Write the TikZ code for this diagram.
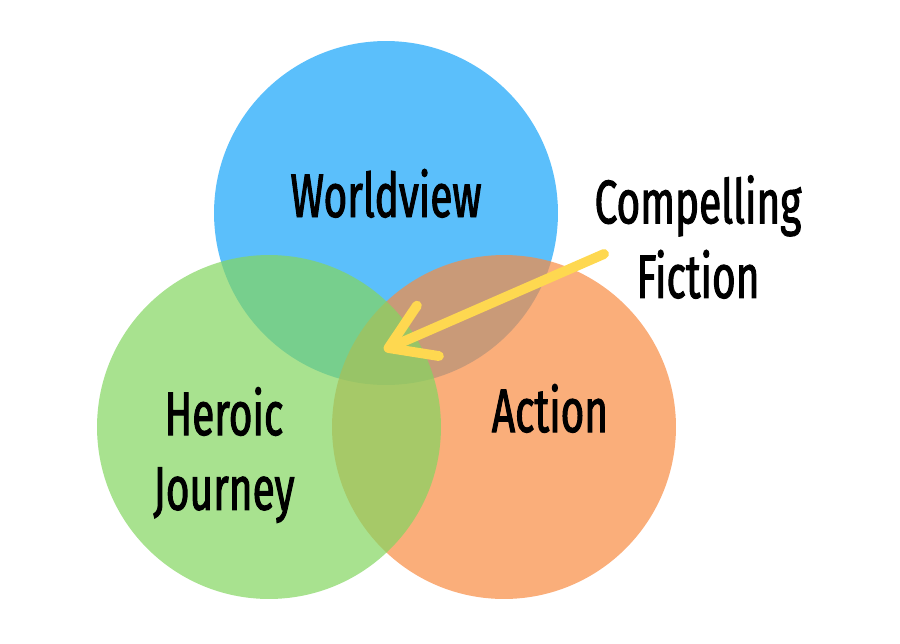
\documentclass[tikz,border=0pt]{standalone}
\usepackage{fontspec}
\setmainfont{Fira Sans}[FakeStretch=0.66, FakeBold=1.6]
\usepackage{xcolor}
\usetikzlibrary{arrows.meta}
\definecolor{cBlue}{RGB}{21,164,249}
\definecolor{cGreen}{RGB}{131,214,96}
\definecolor{cOrange}{RGB}{248,139,66}
\definecolor{cYellow}{RGB}{254,216,80}
\tikzset{
    setcircle/.style={circle, minimum size=6.88cm, inner sep=0pt, fill opacity=0.7},
    setlabel/.style ={font=\fontsize{35}{42.5}\selectfont, align=center, inner sep=0pt, text=black},
    pointer/.style  ={-{Straight Barb[length=8.6mm, width=11mm, round]}, line width=5.6pt, line cap=round, cYellow},
}

\begin{document}
\begin{tikzpicture}[x=0.02cm, y=-0.02cm]
                \useasboundingbox (0,0) rectangle (900,643);
                \node[setcircle, fill=cBlue] (world) at (386,213){};
                \node[setcircle, fill=cOrange] (action) at (504,427){};
                \node[setcircle, fill=cGreen] (hero) at (269,427){};
                \node[setlabel, anchor=base] (worldtxt) at (386,217){Worldview};
                \node[setlabel] (herotxt) at (224,455){Heroic\\Journey};
                \node[setlabel, anchor=base] (actiontxt) at (550,432){Action};
                \node[setlabel] (fiction) at (698,237){Compelling\\Fiction};
                \coordinate (tail) at (604,254);
                \coordinate (core) at (384,350);
                \draw[pointer](tail)--(core);
            \end{tikzpicture}
\end{document}
